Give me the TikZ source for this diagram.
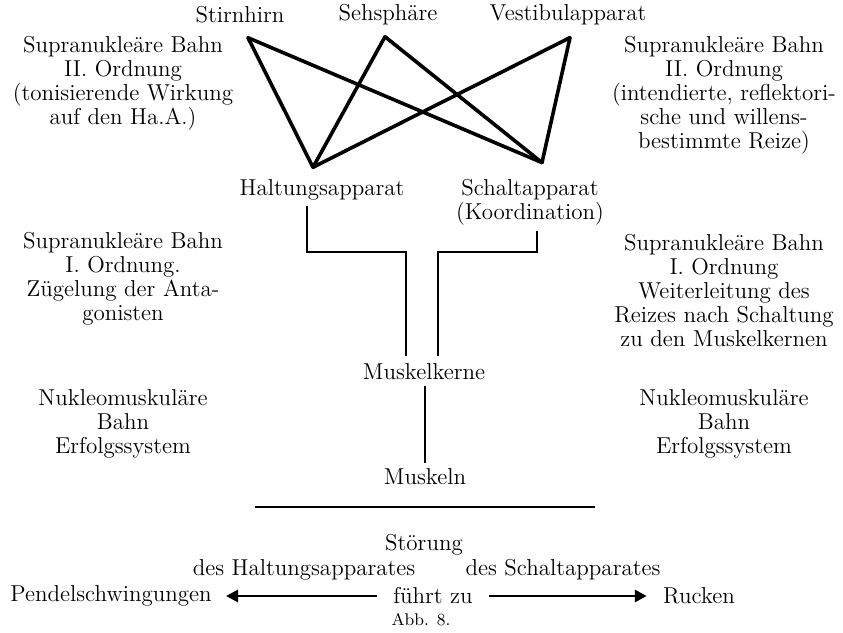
\documentclass[tikz,border=0pt]{standalone}
\usepackage{fontspec}
\usepackage{tikz}
\usetikzlibrary{arrows.meta,positioning}

\begin{document}
\begin{tikzpicture}[
  x=0.5pt, y=-0.5pt,
  lbl/.style={inner sep=0pt, align=center,
              font=\fontsize{11.5}{12}\selectfont},
  klein/.style={inner sep=0pt, font=\fontsize{8.5}{10}\selectfont},
  link/.style={line width=1.2pt},
  kreuz/.style={line width=1.8pt, line cap=round, line join=round},
  pfeil/.style={line width=1.4pt, -{Triangle[length=6pt,width=6pt]}},
]
  \fill[white] (0,0) rectangle (843,633);
  \useasboundingbox (0,0) rectangle (843,633);

  %% Zentren oben
  \node[lbl] (T1) at (240,15) {Stirnhirn};
  \node[lbl] (T2) at (388,15) {Sehsphäre};
  \node[lbl] (T3) at (568,15) {Vestibulapparat};

  %% Apparate
  \node[lbl] (H) at (322,190) {Haltungsapparat};
  \node[lbl] (K) at (530,202) {Schaltapparat\\(Koordination)};

  %% Kerne und Muskeln
  \node[lbl] (M)  at (424,372) {Muskelkerne};
  \node[lbl] (MU) at (425,477) {Muskeln};

  %% Bahnen links
  \node[lbl] (L2) at (123,83)
    {Supranukleäre Bahn\\II. Ordnung\\(tonisierende Wirkung\\auf den Ha.A.)};
  \node[lbl] (L1) at (123,279)
    {Supranukleäre Bahn\\I. Ordnung.\\Zügelung der Anta-\\gonisten};
  \node[lbl] (LN) at (123,424) {Nukleomuskuläre\\Bahn\\Erfolgssystem};

  %% Bahnen rechts
  \node[lbl] (R2) at (724,95)
    {Supranukleäre Bahn\\II. Ordnung\\(intendierte, reflektori-\\sche und willens-\\bestimmte Reize)};
  \node[lbl] (R1) at (724,291)
    {Supranukleäre Bahn\\I. Ordnung\\Weiterleitung des\\Reizes nach Schaltung\\zu den Muskelkernen};
  \node[lbl] (RN) at (724,424) {Nukleomuskuläre\\Bahn\\Erfolgssystem};

  %% Verbindungen oben
  \coordinate (s1) at ([shift={(8,14)}]T1.south);
  \coordinate (s2) at ([shift={(-3,11)}]T2.south);
  \coordinate (s3) at ([shift={(2,12)}]T3.south);
  \coordinate (h1) at ([shift={(-9,-12)}]H.north);
  \coordinate (k1) at ([shift={(12,-16)}]K.north);
  \foreach \a in {s1,s2,s3}
    \foreach \b in {h1,k1}
      \draw[kreuz] (\a) -- (\b);

  %% Verbindungen unten
  \draw[link] ([shift={(-15,5)}]H.south) |- (406,252)
    -- ([shift={(-18,-8)}]M.north);
  \draw[link] ([shift={(7,6)}]K.south) |- (438,252)
    -- ([shift={(14,-8)}]M.north);
  \draw[link] ([shift={(1,5)}]M.south) -- ([shift={(0,-6)}]MU.north);

  %% Trennstrich
  \draw[link] (255,507) -- (595,507);

  %% Stoerung
  \node[lbl] (ST) at (424,545) {Störung};
  \node[lbl] (DH) at (304,570) {des Haltungsapparates};
  \node[lbl] (DS) at (563,570) {des Schaltapparates};
  \node[lbl] (PS) at (111,596) {Pendelschwingungen};
  \node[lbl] (FZ) at (433,596) {führt zu};
  \node[lbl] (RU) at (699,596) {Rucken};
  \draw[pfeil] ([xshift=-8pt]FZ.west) -- ([xshift=7pt]PS.east);
  \draw[pfeil] ([xshift=8pt]FZ.east) -- ([xshift=-8pt]RU.west);
  \node[klein] (ABB) at (421,620) {Abb. 8.};
\end{tikzpicture}
\end{document}
